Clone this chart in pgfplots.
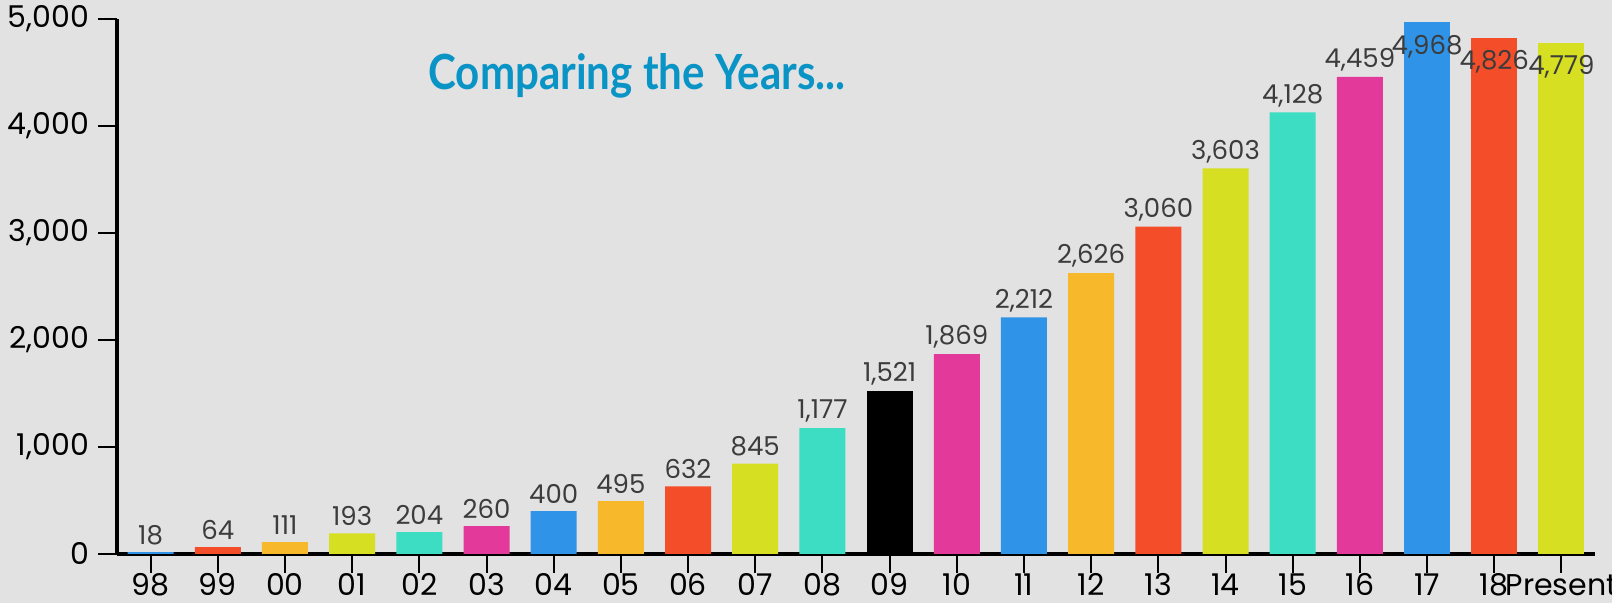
\documentclass[border=0pt]{standalone}
\usepackage{pgfplots}
\pgfplotsset{compat=1.18}
\usepackage{fontspec}
\setmainfont{Poppins}
\newfontfamily\titlefont{Lato}
\definecolor{bg}{HTML}{E2E2E2}
\definecolor{cblue}{HTML}{2F93E8}
\definecolor{cred}{HTML}{F44D2A}
\definecolor{cyellow}{HTML}{F7B82C}
\definecolor{clime}{HTML}{D6DF22}
\definecolor{cteal}{HTML}{3DDDC3}
\definecolor{cmag}{HTML}{E2399B}
\definecolor{labelgrey}{HTML}{3C3C3C}
\definecolor{titleblue}{HTML}{0A94C6}
\begin{document}
\begin{tikzpicture}
\fill[bg] (0,0) rectangle (806pt,301.5pt);
\useasboundingbox (0,0) rectangle (806pt,301.5pt);
\node[anchor=base west, inner sep=0pt, text=titleblue] at (214pt,256.5pt)
  {\resizebox{208.5pt}{18pt}{\titlefont\bfseries Comparing the Years...}};
\begin{axis}[
  at={(58.5pt,24.5pt)}, anchor=south west,
  scale only axis, width=739pt, height=267.5pt,
  xmin=-0.5, xmax=21.5, ymin=0, ymax=5000,
  axis lines=left, axis line style={-, line width=2pt, black},
  tick align=outside, major tick length=9.5pt,
  tick style={line width=1pt, black},
  xtick={0,...,21},
  xticklabels={98,99,00,01,02,03,04,05,06,07,08,09,10,11,12,13,14,15,16,17,18,Present},
  ytick={0,1000,2000,3000,4000,5000},
  scaled y ticks=false,
  /pgf/number format/assume math mode=true,
  /pgf/number format/1000 sep={,},
  ticklabel style={font=\fontsize{15}{18}\selectfont, text=black},
  xticklabel style={anchor=base, inner sep=0pt, yshift=-11.5pt},
  yticklabel style={xshift=-1pt},
  every axis plot/.append style={ybar, bar width=23pt, bar shift=0pt, draw=none},
  nodes near coords,
  every node near coord/.append style={font=\fontsize{13}{15}\selectfont, text=labelgrey, anchor=center, yshift=8.5pt},
  clip=false,
]
\addplot[fill=cblue] coordinates {(0,18) (6,400) (13,2212)};
\addplot[fill=cred] coordinates {(1,64) (8,632) (15,3060)};
\addplot[fill=cyellow] coordinates {(2,111) (7,495) (14,2626)};
\addplot[fill=clime] coordinates {(3,193) (9,845) (16,3603)};
\addplot[fill=cteal] coordinates {(4,204) (10,1177) (17,4128)};
\addplot[fill=cmag] coordinates {(5,260) (12,1869) (18,4459)};
\addplot[fill=black] coordinates {(11,1521)};
\addplot[fill=cblue, every node near coord/.append style={yshift=-20.5pt}] coordinates {(19,4968)};
\addplot[fill=cred, every node near coord/.append style={yshift=-20.5pt}] coordinates {(20,4826)};
\addplot[fill=clime, every node near coord/.append style={yshift=-20.5pt}] coordinates {(21,4779)};
\end{axis}
\end{tikzpicture}
\end{document}
